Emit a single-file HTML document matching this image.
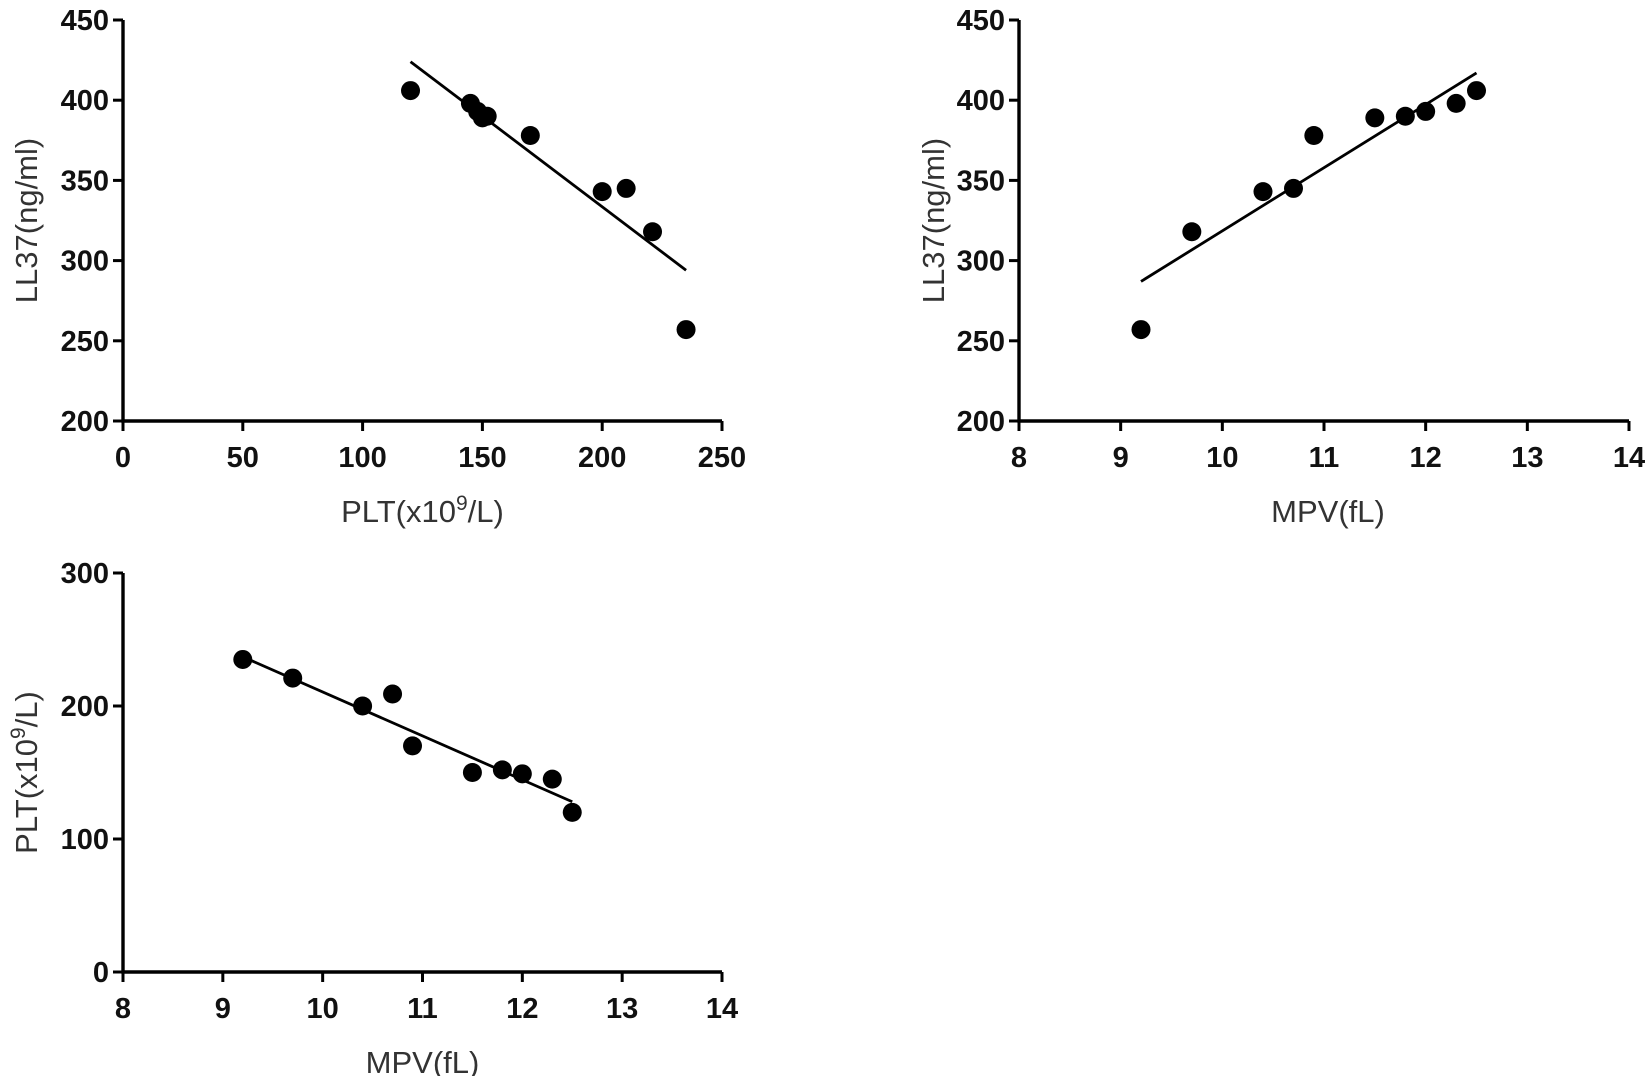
<!DOCTYPE html>
<html><head><meta charset="utf-8"><style>
body{margin:0;background:#fff;}
svg{display:block;font-family:"Liberation Sans",Arial,sans-serif;}
.tick{font-size:29px;font-weight:bold;fill:#111;}
.title{font-size:31px;fill:#333;}
</style></head><body>
<svg id="fig" width="1650" height="1076" viewBox="0 0 1650 1076"></svg>
<script>
// Panel A: PLT vs LL37
const aX = [120,145,148,150,152,170,200,210,221,235];
const aY = [406,398,393,389,390,378,343,345,318,257];
const aFit = [[120,424],[235,294]];
const aXTicks = [0,50,100,150,200,250];
const aYTicks = [200,250,300,350,400,450];
// Panel B: MPV vs LL37
const bX = [9.2,9.7,10.4,10.7,10.9,11.5,11.8,12.0,12.3,12.5];
const bY = [257,318,343,345,378,389,390,393,398,406];
const bFit = [[9.2,287],[12.5,417]];
const bXTicks = [8,9,10,11,12,13,14];
const bYTicks = [200,250,300,350,400,450];
// Panel C: MPV vs PLT
const cX = [9.2,9.7,10.4,10.7,10.9,11.5,11.8,12.0,12.3,12.5];
const cY = [235,221,200,209,170,150,152,149,145,120];
const cFit = [[9.2,237],[12.5,128]];
const cXTicks = [8,9,10,11,12,13,14];
const cYTicks = [0,100,200,300];

const NS="http://www.w3.org/2000/svg";
const svg=document.getElementById('fig');
function mk(t,a,p){const e=document.createElementNS(NS,t);for(const k in a)e.setAttribute(k,a[k]);(p||svg).appendChild(e);return e;}

function panel(id,g0,xs,ys,fit,xt,yt,xTitle,yTitle){
  const g=mk('g',{});
  
  
  const xmin=xt[0],xmax=xt[xt.length-1],ymin=yt[0],ymax=yt[yt.length-1];
  const sx=v=>g0.x0+(v-xmin)/(xmax-xmin)*(g0.x1-g0.x0);
  const sy=v=>g0.y1-(v-ymin)/(ymax-ymin)*(g0.y1-g0.y0);
  const ax=mk('path',{d:`M${g0.x0},${g0.y0}V${g0.y1}H${g0.x1}`,stroke:'#000','stroke-width':3.4,fill:'none'},g);
  
  
  xt.forEach(v=>{
    mk('line',{x1:sx(v),x2:sx(v),y1:g0.y1,y2:g0.y1+10,stroke:'#000','stroke-width':3},g);
    const t=mk('text',{x:sx(v),y:g0.y1+46,'text-anchor':'middle',class:'tick'},g);
    t.textContent=v;
    
    
  });
  yt.forEach(v=>{
    mk('line',{x1:g0.x0-10,x2:g0.x0,y1:sy(v),y2:sy(v),stroke:'#000','stroke-width':3},g);
    const t=mk('text',{x:g0.x0-14,y:sy(v)+10,'text-anchor':'end',class:'tick'},g);
    t.textContent=v;
    
    
  });
  const fl=mk('line',{x1:sx(fit[0][0]),y1:sy(fit[0][1]),x2:sx(fit[1][0]),y2:sy(fit[1][1]),stroke:'#000','stroke-width':2.8},g);
  
  
  xs.forEach((v,i)=>{
    const c=mk('circle',{cx:sx(v),cy:sy(ys[i]),r:9.5,fill:'#000'},g);
    
    
  });
  const xtT=mk('text',{x:(g0.x0+g0.x1)/2+g0.xtOff,y:g0.y1+101,'text-anchor':'middle',class:'title'},g);
  xtT.innerHTML=xTitle;
  
  
  const cy=(g0.y0+g0.y1)/2;
  const ytT=mk('text',{x:g0.ytx,y:cy,'text-anchor':'middle',class:'title',transform:`rotate(-90 ${g0.ytx} ${cy})`},g);
  ytT.innerHTML=yTitle;
  
  
}
panel('panel-plt-ll37',{x0:123,x1:722,y0:20,y1:421,xtOff:0,ytx:37},aX,aY,aFit,aXTicks,aYTicks,'PLT(x10<tspan dy="-12" font-size="21">9</tspan><tspan dy="12">/L)</tspan>','LL37(ng/ml)');
panel('panel-mpv-ll37',{x0:1019,x1:1629,y0:20,y1:421,xtOff:4,ytx:944},bX,bY,bFit,bXTicks,bYTicks,'MPV(fL)','LL37(ng/ml)');
panel('panel-mpv-plt',{x0:123,x1:722,y0:573,y1:972,xtOff:0,ytx:37},cX,cY,cFit,cXTicks,cYTicks,'MPV(fL)','PLT(x10<tspan dy="-12" font-size="21">9</tspan><tspan dy="12">/L)</tspan>');
</script>
</body></html>
